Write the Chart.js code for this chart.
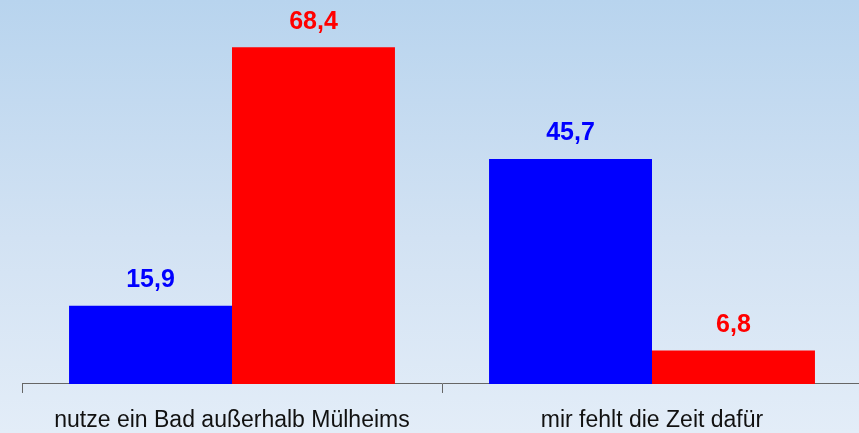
<!DOCTYPE html>
<html>
<head>
<meta charset="utf-8">
<script src="https://cdn.jsdelivr.net/npm/chart.js@4"></script>
<style>
  html, body { margin: 0; padding: 0; overflow: hidden; }
  body { background: linear-gradient(to bottom, #b8d4ee 0%, #d2e2f3 55%, #e3edf8 100%); width: 859px; height: 433px; }
  #wrap { width: 862px; height: 449px; }
</style>
</head>
<body>
<div id="wrap"><canvas id="chart" width="862" height="449"></canvas></div>
<script>
// categories and series
const categories = ["nutze ein Bad außerhalb Mülheims", "mir fehlt die Zeit dafür"];
const blueValues = [15.9, 45.7];
const redValues = [68.4, 6.8];

// writes the value above each bar, German decimal comma
const valueLabels = {
    id: "valueLabels",
    afterDatasetsDraw(chart) {
        const ctx = chart.ctx;
        ctx.save();
        ctx.font = "bold 25px 'Liberation Sans', Arial, sans-serif";
        ctx.textAlign = "center";
        ctx.textBaseline = "bottom";
        chart.data.datasets.forEach((ds, i) => {
            const meta = chart.getDatasetMeta(i);
            meta.data.forEach((bar, j) => {
                ctx.fillStyle = ds.backgroundColor;
                ctx.fillText(ds.data[j].toFixed(1).replace(".", ","), bar.x, bar.y - 13);
            });
        });
        ctx.restore();
    }
};

const ctx = document.getElementById("chart").getContext("2d");
new Chart(ctx, {
    type: "bar",
    data: {
        labels: categories,
        datasets: [
            { data: blueValues, backgroundColor: "#0000ff", categoryPercentage: 0.776, barPercentage: 1 },
            { data: redValues, backgroundColor: "#ff0000", categoryPercentage: 0.776, barPercentage: 1 }
        ]
    },
    options: {
        responsive: false,
        animation: false,
        layout: { padding: { left: 22, right: 0, top: 0, bottom: 0 } },
        plugins: { legend: { display: false }, tooltip: { enabled: false } },
        scales: {
            x: {
                border: { color: "#666666", width: 1 },
                grid: { offset: true, drawOnChartArea: false, drawTicks: true, tickLength: 9, color: "#666666" },
                ticks: {
                    color: "#111111",
                    padding: 21,
                    maxRotation: 0,
                    font: { family: "'Liberation Sans', Arial, sans-serif", size: 23, lineHeight: 0.61 }
                }
            },
            y: { display: false, min: 0, max: 78 }
        }
    },
    plugins: [valueLabels]
});
</script>
</body>
</html>
